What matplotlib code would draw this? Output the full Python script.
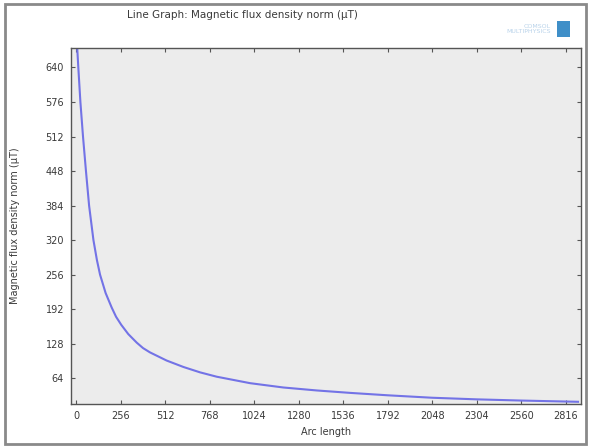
import matplotlib
matplotlib.use("Agg")
from matplotlib import pyplot as plt
from matplotlib.patches import Rectangle

# values
arc_length = [0, 13, 25, 40, 57, 75, 100, 120, 138, 170, 205, 230, 260, 300,
              349, 385, 425, 520, 617, 713, 808, 1000, 1191, 1383, 1575, 1793,
              2046, 2304, 2557, 2810, 2885]
flux_norm = [715, 640, 576, 512, 448, 384, 320, 283, 256, 222, 195, 178, 163, 146,
             130, 120, 112, 97, 85, 75, 67, 55, 47, 41.5, 37, 32.5,
             28, 25, 22.8, 21, 20.5]

x_ticks = [0, 256, 512, 768, 1024, 1280, 1536, 1792, 2048, 2304, 2560, 2816]
y_ticks = [64, 128, 192, 256, 320, 384, 448, 512, 576, 640]

text_col = "#3a3a3a"

fig = plt.figure(figsize=(5.89, 4.48), dpi=100)
fig.patch.set_facecolor("white")

# grey frame around the whole graphics window
fig.add_artist(Rectangle((5 / 589, 4 / 448), 581 / 589, 440 / 448,
                         transform=fig.transFigure, fill=False,
                         edgecolor="#8a8a8a", linewidth=2))

ax = fig.add_axes([71 / 589, 44 / 448, 510 / 589, 356 / 448])
ax.set_facecolor("#ececec")
ax.plot(arc_length, flux_norm, color="#7373e6", linewidth=1.5)

ax.set_xlim(-29, 2902)
ax.set_ylim(16.4, 676)
ax.set_xticks(x_ticks)
ax.set_yticks(y_ticks)
ax.tick_params(direction="in", length=3, width=0.8, colors="#555555",
               labelcolor=text_col, labelsize=7, top=True, right=True, pad=5)
for s in ax.spines.values():
    s.set_color("#555555")
    s.set_linewidth(1)

ax.set_xlabel("Arc length", fontsize=7, color=text_col, labelpad=4)
ax.set_ylabel("Magnetic flux density norm (µT)", fontsize=7, color=text_col)
ax.yaxis.set_label_coords(-0.1, 0.5)

fig.text(0.411, 0.966, "Line Graph: Magnetic flux density norm (µT)",
         ha="center", va="center", fontsize=7.5, color=text_col)

# COMSOL badge in the corner
fig.text(0.935, 0.935, "COMSOL\nMULTIPHYSICS", ha="right", va="center",
         fontsize=4.5, color="#b9d3ea", linespacing=1.0)
fig.add_artist(Rectangle((0.945, 0.918), 0.022, 0.035,
                         transform=fig.transFigure, facecolor="#3f8fc8",
                         edgecolor="none"))

fig.savefig("out.png", dpi=100)
